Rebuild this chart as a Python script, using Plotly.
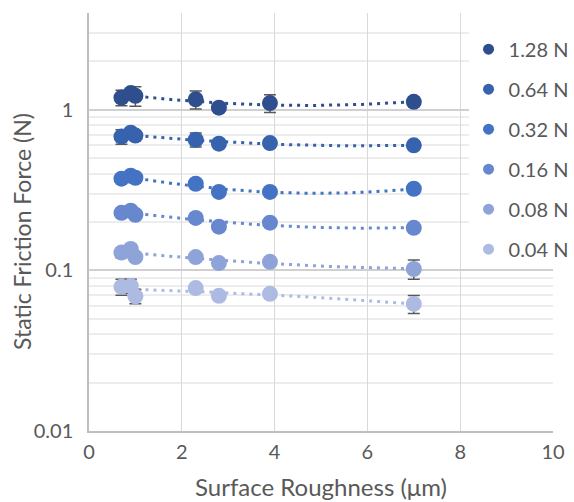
import numpy as np
import plotly.graph_objects as go

roughness = [0.7, 0.9, 1.0, 2.3, 2.8, 3.9, 7.0]
loads = ["1.28 N", "0.64 N", "0.32 N", "0.16 N", "0.08 N", "0.04 N"]
friction = [
    [1.19, 1.27, 1.22, 1.16, 1.03, 1.10, 1.12],
    [0.68, 0.72, 0.69, 0.65, 0.615, 0.62, 0.60],
    [0.372, 0.388, 0.377, 0.346, 0.308, 0.308, 0.322],
    [0.228, 0.235, 0.222, 0.212, 0.187, 0.198, 0.184],
    [0.129, 0.136, 0.121, 0.121, 0.111, 0.113, 0.102],
    [0.079, 0.080, 0.069, 0.0776, 0.0694, 0.0714, 0.0618],
]
errors = [
    [0.13, 0.05, 0.17, 0.15, 0.04, 0.14, 0.05],
    [0.07, 0.03, 0.03, 0.065, 0.03, 0.03, 0.03],
    [0.012, 0.012, 0.012, 0.012, 0.012, 0.012, 0.012],
    [0.008, 0.008, 0.008, 0.008, 0.008, 0.008, 0.008],
    [0.009, 0.005, 0.005, 0.005, 0.005, 0.005, 0.014],
    [0.009, 0.008, 0.007, 0.004, 0.004, 0.004, 0.008],
]
colors = ["#2E4E8E", "#3762AD", "#4472C4", "#6788CE", "#8EA4D8", "#ADBBE2"]

FONT = "Lato"
GREY = "#595959"

fig = go.Figure()

# trendlines (2nd order polynomial fits, as in the source chart)
xs = np.linspace(min(roughness), max(roughness), 200)
for name, ys, c in zip(loads, friction, colors):
    coef = np.polyfit(roughness, ys, 2)
    fig.add_trace(go.Scatter(
        x=xs, y=np.polyval(coef, xs), mode="lines",
        line=dict(color=c, width=3, dash="3px,5px"),
        showlegend=False, hoverinfo="skip"))

# data points with error bars
for name, ys, es, c in zip(loads, friction, errors, colors):
    fig.add_trace(go.Scatter(
        x=roughness, y=ys, mode="markers", name=name,
        marker=dict(color=c, size=16),
        error_y=dict(type="data", array=es, color="#595959", thickness=1.5, width=6),
        showlegend=False))

# legend entries
for i, (name, c) in enumerate(zip(loads, colors)):
    fig.add_trace(go.Scatter(
        x=[None], y=[None], mode="markers", name=name,
        marker=dict(color=c, size=11), legendgroup=f"g{i}", showlegend=True))

fig.update_layout(
    width=574, height=502,
    margin=dict(l=89, r=21, t=13, b=71, autoexpand=False),
    paper_bgcolor="white", plot_bgcolor="white",
    font=dict(family=FONT, size=20, color=GREY),
    legend=dict(x=0.818, y=0.96, xanchor="left", yanchor="top",
                bgcolor="white", font=dict(size=20, color=GREY),
                tracegroupgap=11, itemwidth=30),
    showlegend=True,
    annotations=[dict(
        text="Static Friction Force (N)", textangle=-90,
        xref="paper", yref="paper", x=-0.1444, y=0.4785,
        xanchor="center", yanchor="middle", showarrow=False,
        font=dict(size=23, color=GREY))],
)
fig.update_xaxes(
    range=[0, 10], dtick=2, showgrid=True, gridcolor="#D9D9D9", gridwidth=1,
    showline=True, linecolor="#BFBFBF", linewidth=1.5, zeroline=False,
    ticks="", ticklabelstandoff=2,
    title=dict(text="Surface Roughness (μm)", font=dict(size=24, color=GREY), standoff=17),
)
fig.update_yaxes(
    type="log", range=[-2, np.log10(4)], dtick=1,
    tickvals=[0.01, 0.1, 1], ticktext=["0.01", "0.1", "1"],
    showgrid=True, gridcolor="#D0D0D0", gridwidth=1.5,
    minor=dict(showgrid=True, gridcolor="#EDEDED", gridwidth=1.5, dtick="D1"),
    showline=True, linecolor="#BFBFBF", linewidth=1.5, zeroline=False,
    ticks="", ticklabelstandoff=10,
)

fig.write_html("out.html")
